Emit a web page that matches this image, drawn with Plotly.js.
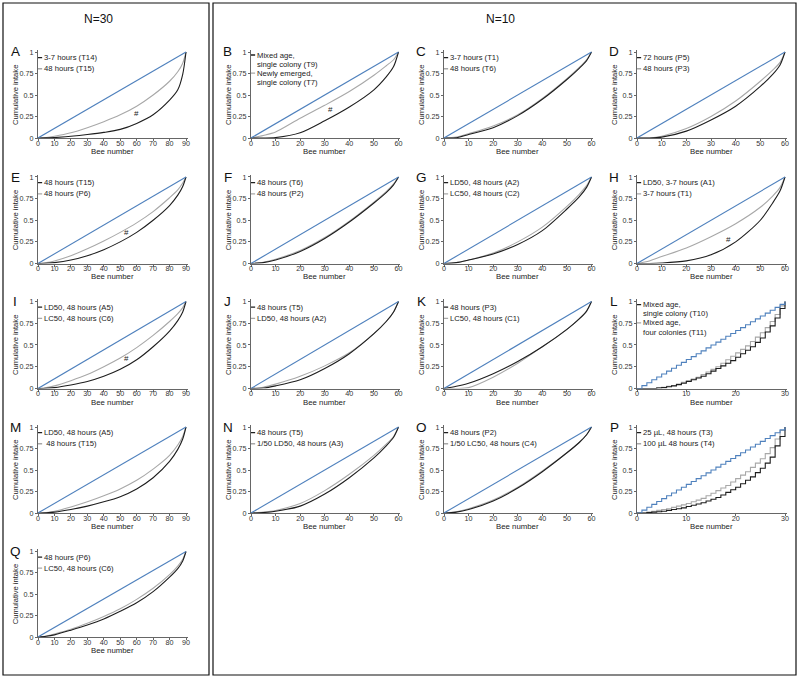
<!DOCTYPE html>
<html><head><meta charset="utf-8">
<script src="https://cdn.plot.ly/plotly-3.0.1.min.js"></script>
<style>html,body{margin:0;padding:0;background:#fff}#chart{width:800px;height:678px}</style>
</head><body><div id="chart"></div>
<script>
// ---- bee-number sample positions ----
const x90 = [0,5,10,20,30,40,50,60,70,80,85,88,90];
const x60 = [0,5,10,20,30,40,50,55,58,60];
const x30 = [0,1,2,3,4,5,6,7,8,9,10,11,12,13,14,15,16,17,18,19,20,21,22,23,24,25,26,27,28,29,30];
const equal30 = [0,0.033,0.067,0.1,0.133,0.167,0.2,0.233,0.267,0.3,0.333,0.367,0.4,0.433,0.467,0.5,0.533,0.567,0.6,0.633,0.667,0.7,0.733,0.767,0.8,0.833,0.867,0.9,0.933,0.967,1];
const equalEnds = [0,1];

// ---- cumulative intake series (black = first legend entry, gray = second) ----
const aBlack = [0,0.002,0.005,0.02,0.04,0.065,0.10,0.17,0.27,0.44,0.56,0.74,1];
const aGray  = [0,0.006,0.02,0.06,0.12,0.19,0.27,0.37,0.50,0.66,0.77,0.87,1];
const eBlack = [0,0.003,0.01,0.04,0.09,0.16,0.25,0.36,0.50,0.67,0.79,0.89,1];
const eGray  = [0,0.01,0.03,0.09,0.17,0.26,0.36,0.47,0.60,0.76,0.85,0.93,1];
const iBlack = [0,0.003,0.01,0.04,0.08,0.14,0.22,0.33,0.48,0.66,0.78,0.88,1];
const iGray  = [0,0.01,0.03,0.09,0.16,0.25,0.35,0.47,0.61,0.77,0.86,0.93,1];
const mBlack = [0,0.003,0.01,0.04,0.08,0.13,0.19,0.28,0.41,0.60,0.74,0.86,1];
const mGray  = [0,0.006,0.02,0.07,0.13,0.20,0.28,0.38,0.51,0.67,0.79,0.89,1];
const qBlack = [0,0.008,0.025,0.08,0.14,0.21,0.30,0.40,0.53,0.70,0.80,0.89,1];
const qGray  = [0,0.012,0.035,0.09,0.16,0.24,0.33,0.44,0.57,0.73,0.83,0.91,1];

const bBlack = [0,0,0.005,0.06,0.20,0.36,0.56,0.71,0.83,1];
const bGray  = [0,0.03,0.07,0.23,0.38,0.54,0.73,0.84,0.91,1];
const cBlack = [0,0.003,0.04,0.12,0.26,0.45,0.68,0.81,0.90,1];
const cGray  = [0,0.01,0.05,0.14,0.27,0.46,0.69,0.82,0.91,1];
const dBlack = [0,0,0.01,0.08,0.21,0.37,0.60,0.74,0.85,1];
const dGray  = [0,0,0.02,0.11,0.25,0.43,0.66,0.79,0.88,1];
const fBlack = [0,0.01,0.04,0.14,0.29,0.48,0.70,0.82,0.91,1];
const fGray  = [0,0.015,0.05,0.15,0.30,0.49,0.71,0.83,0.92,1];
const gBlack = [0,0.01,0.04,0.11,0.22,0.38,0.63,0.77,0.88,1];
const gGray  = [0,0.01,0.04,0.12,0.25,0.42,0.66,0.80,0.90,1];
const hBlack = [0,0,0.005,0.03,0.10,0.25,0.50,0.70,0.84,1];
const hGray  = [0,0.03,0.08,0.18,0.31,0.46,0.65,0.78,0.88,1];
const jBlack = [0,0.005,0.03,0.10,0.23,0.40,0.63,0.77,0.88,1];
const jGray  = [0,0.015,0.05,0.14,0.26,0.41,0.63,0.77,0.88,1];
const kBlack = [0,0.025,0.06,0.17,0.31,0.48,0.68,0.80,0.89,1];
const kGray  = [0,0,0.01,0.13,0.29,0.48,0.68,0.80,0.89,1];
const nBlack = [0,0.005,0.02,0.08,0.22,0.41,0.64,0.78,0.88,1];
const nGray  = [0,0.01,0.03,0.11,0.26,0.45,0.67,0.80,0.89,1];
const oBlack = [0,0.01,0.04,0.14,0.29,0.48,0.70,0.82,0.91,1];
const oGray  = [0,0.015,0.05,0.15,0.30,0.49,0.70,0.82,0.91,1];

const lBlack = [0,0,0,0,0.005,0.01,0.02,0.03,0.045,0.06,0.08,0.10,0.12,0.14,0.17,0.20,0.23,0.26,0.29,0.32,0.36,0.40,0.44,0.48,0.53,0.58,0.65,0.72,0.81,0.92,1];
const lGray  = [0,0,0,0,0.01,0.015,0.025,0.035,0.05,0.07,0.09,0.11,0.13,0.16,0.19,0.22,0.25,0.29,0.33,0.37,0.41,0.45,0.49,0.54,0.59,0.64,0.70,0.77,0.85,0.95,1];
const pBlack = [0,0,0.005,0.01,0.015,0.02,0.03,0.04,0.05,0.06,0.075,0.09,0.105,0.12,0.14,0.16,0.18,0.21,0.24,0.27,0.30,0.34,0.38,0.42,0.47,0.52,0.58,0.65,0.78,0.89,1];
const pGray  = [0,0,0.01,0.02,0.03,0.04,0.05,0.065,0.08,0.095,0.11,0.13,0.15,0.17,0.20,0.23,0.26,0.29,0.32,0.36,0.40,0.44,0.48,0.53,0.58,0.63,0.69,0.76,0.86,0.96,1];

// ---- legend labels ----
const legA = ['3-7 hours (T14)','48 hours (T15)'];
const legB = ['Mixed age,<br>single colony (T9)','Newly emerged,<br>single colony (T7)'];
const legC = ['3-7 hours (T1)','48 hours (T6)'];
const legD = ['72 hours (P5)','48 hours (P3)'];
const legE = ['48 hours (T15)','48 hours (P6)'];
const legF = ['48 hours (T6)','48 hours (P2)'];
const legG = ['LD50, 48 hours (A2)','LC50, 48 hours (C2)'];
const legH = ['LD50, 3-7 hours (A1)','3-7 hours (T1)'];
const legI = ['LD50, 48 hours (A5)','LC50, 48 hours (C6)'];
const legJ = ['48 hours (T5)','LD50, 48 hours (A2)'];
const legK = ['48 hours (P3)','LC50, 48 hours (C1)'];
const legL = ['Mixed age,<br>single colony (T10)','Mixed age,<br>four colonies (T11)'];
const legM = ['LD50, 48 hours (A5)',' 48 hours (T15)'];
const legN = ['48 hours (T5)','1/50 LD50, 48 hours (A3)'];
const legO = ['48 hours (P2)','1/50 LC50, 48 hours (C4)'];
const legP = ['25 µL, 48 hours (T3)','100 µL 48 hours (T4)'];
const legQ = ['48 hours (P6)','LC50, 48 hours (C6)'];

const groupTitles = ['N=30','N=10'];
const yTickVals = [0,0.25,0.5,0.75,1];
const yTickText = ['0','0.25','0.5','0.75','1'];

// ---- panel table ----
const panels = [
 {id:'A',col:0,row:0,n:90,x:x90,k:aBlack,g:aGray,leg:legA,hash:[60,0.28]},
 {id:'E',col:0,row:1,n:90,x:x90,k:eBlack,g:eGray,leg:legE,hash:[54,0.36]},
 {id:'I',col:0,row:2,n:90,x:x90,k:iBlack,g:iGray,leg:legI,hash:[54,0.35]},
 {id:'M',col:0,row:3,n:90,x:x90,k:mBlack,g:mGray,leg:legM},
 {id:'Q',col:0,row:4,n:90,x:x90,k:qBlack,g:qGray,leg:legQ},
 {id:'B',col:1,row:0,n:60,x:x60,k:bBlack,g:bGray,leg:legB,hash:[32.4,0.33]},
 {id:'F',col:1,row:1,n:60,x:x60,k:fBlack,g:fGray,leg:legF},
 {id:'J',col:1,row:2,n:60,x:x60,k:jBlack,g:jGray,leg:legJ},
 {id:'N',col:1,row:3,n:60,x:x60,k:nBlack,g:nGray,leg:legN},
 {id:'C',col:2,row:0,n:60,x:x60,k:cBlack,g:cGray,leg:legC},
 {id:'G',col:2,row:1,n:60,x:x60,k:gBlack,g:gGray,leg:legG},
 {id:'K',col:2,row:2,n:60,x:x60,k:kBlack,g:kGray,leg:legK},
 {id:'O',col:2,row:3,n:60,x:x60,k:oBlack,g:oGray,leg:legO},
 {id:'D',col:3,row:0,n:60,x:x60,k:dBlack,g:dGray,leg:legD},
 {id:'H',col:3,row:1,n:60,x:x60,k:hBlack,g:hGray,leg:legH,hash:[37,0.28]},
 {id:'L',col:3,row:2,n:30,x:x30,k:lBlack,g:lGray,leg:legL},
 {id:'P',col:3,row:3,n:30,x:x30,k:pBlack,g:pGray,leg:legP}
];

// pixel geometry: [pixel of value 0, pixel of max value]
const colPx = [[38,186],[251,398.5],[444,591.5],[637,785]];
const rowPx = [[138,52],[263.5,177],[388.5,301.5],[513,427],[637,551.5]];
const W = 800, H = 678;
const BLUE = '#4f81bd', BLACK = '#1e1e1e', GRAY = '#a8a8a8';
const FONT = 'Liberation Sans, Arial, sans-serif';

const data = [], annotations = [], shapes = [];
const layout = {width:W,height:H,margin:{l:0,r:0,t:0,b:0},showlegend:false,
  paper_bgcolor:'#fff',plot_bgcolor:'rgba(0,0,0,0)',font:{family:FONT,color:'#222'}};

const XPAD = 1.012, YMAX = 1.025;
panels.forEach((p,i)=>{
  const s = i===0 ? '' : String(i+1);
  const xa = 'x'+s, ya = 'y'+s;
  const [cx0,cx1] = colPx[p.col], [ry0,ry1] = rowPx[p.row];
  const xEnd = cx0 + (cx1-cx0)*XPAD;
  const yTop = ry0 - (ry0-ry1)*YMAX;
  const step = p.n===30;
  const tv = []; for (let t=0;t<=p.n;t+=10) tv.push(t);
  layout['xaxis'+s] = {domain:[cx0/W,xEnd/W],range:[0,p.n*XPAD],anchor:ya,
    showline:true,linecolor:'#666',linewidth:1,ticks:'outside',ticklen:2,tickcolor:'#666',
    ticklabelstandoff:-4,
    tickvals:tv,tickfont:{size:7.2,color:'#333',family:FONT},showgrid:false,zeroline:false,fixedrange:true};
  layout['yaxis'+s] = {domain:[1-ry0/H,1-yTop/H],range:[0,YMAX],anchor:xa,
    showline:true,linecolor:'#666',linewidth:1,ticks:'outside',ticklen:2,tickcolor:'#666',
    tickvals:yTickVals,ticktext:yTickText,tickfont:{size:7.2,color:'#333',family:FONT},
    showgrid:false,zeroline:false,fixedrange:true};
  const shape = step ? 'hv' : 'spline';
  data.push({x:p.x,y:p.g,xaxis:xa,yaxis:ya,mode:'lines',line:{color:GRAY,width:1.1,shape:shape,smoothing:0.8},hoverinfo:'skip'});
  data.push({x:p.x,y:p.k,xaxis:xa,yaxis:ya,mode:'lines',line:{color:BLACK,width:1.1,shape:shape,smoothing:0.8},hoverinfo:'skip'});
  if (step) data.push({x:x30,y:equal30,xaxis:xa,yaxis:ya,mode:'lines',line:{color:BLUE,width:1.1,shape:'hv'},hoverinfo:'skip'});
  else data.push({x:[0,p.n],y:equalEnds,xaxis:xa,yaxis:ya,mode:'lines',line:{color:BLUE,width:1.1},hoverinfo:'skip'});

  // panel letter
  annotations.push({xref:'paper',yref:'paper',x:(cx0-23)/W,y:1-(ry1)/H,text:p.id,showarrow:false,
    xanchor:'center',yanchor:'middle',font:{size:13.5,family:FONT,color:'#111'}});
  // axis titles
  annotations.push({xref:'paper',yref:'paper',x:(cx0+cx1)/2/W,y:1-(ry0+13.5)/H,text:'Bee number',showarrow:false,
    xanchor:'center',yanchor:'middle',font:{size:7.8,family:FONT,color:'#222'}});
  annotations.push({xref:'paper',yref:'paper',x:(cx0-23)/W,y:1-((ry0+ry1)/2)/H,text:'Cumulative intake',showarrow:false,
    textangle:-90,xanchor:'center',yanchor:'middle',font:{size:7.6,family:FONT,color:'#222'}});
  // legend (stub + label)
  const twoLine = p.leg[0].indexOf('<br>')>=0;
  const entryY = twoLine ? [0.965,0.755] : [0.935,0.805];
  const lineGap = 0.108;
  p.leg.forEach((lab,j)=>{
    const y0 = entryY[j];
    shapes.push({type:'line',xref:xa,yref:ya,x0:0,x1:p.n*0.028,y0:y0,y1:y0,line:{color:j===0?BLACK:GRAY,width:1.3}});
    lab.split('<br>').forEach((ln,q)=>{
      annotations.push({xref:xa,yref:ya,x:p.n*0.028,y:y0-q*lineGap,text:ln,showarrow:false,
        xanchor:'left',yanchor:'middle',font:{size:7.7,family:FONT,color:'#222'}});
    });
  });
  if (p.hash) annotations.push({xref:xa,yref:ya,x:p.hash[0],y:p.hash[1],text:'#',showarrow:false,
    xanchor:'center',yanchor:'middle',font:{size:8,family:FONT,color:'#222'}});
});

// group boxes and titles
shapes.push({type:'rect',xref:'paper',yref:'paper',x0:3/W,x1:209/W,y0:1-675/H,y1:1-3/H,line:{color:'#111',width:1.2}});
shapes.push({type:'rect',xref:'paper',yref:'paper',x0:213/W,x1:796/W,y0:1-675/H,y1:1-3/H,line:{color:'#111',width:1.2}});
annotations.push({xref:'paper',yref:'paper',x:98/W,y:1-19/H,text:groupTitles[0],showarrow:false,xanchor:'center',yanchor:'middle',font:{size:12,family:FONT,color:'#111'}});
annotations.push({xref:'paper',yref:'paper',x:500/W,y:1-19/H,text:groupTitles[1],showarrow:false,xanchor:'center',yanchor:'middle',font:{size:12,family:FONT,color:'#111'}});

layout.annotations = annotations;
layout.shapes = shapes;
Plotly.newPlot('chart',data,layout,{staticPlot:true,displayModeBar:false});
</script></body></html>
